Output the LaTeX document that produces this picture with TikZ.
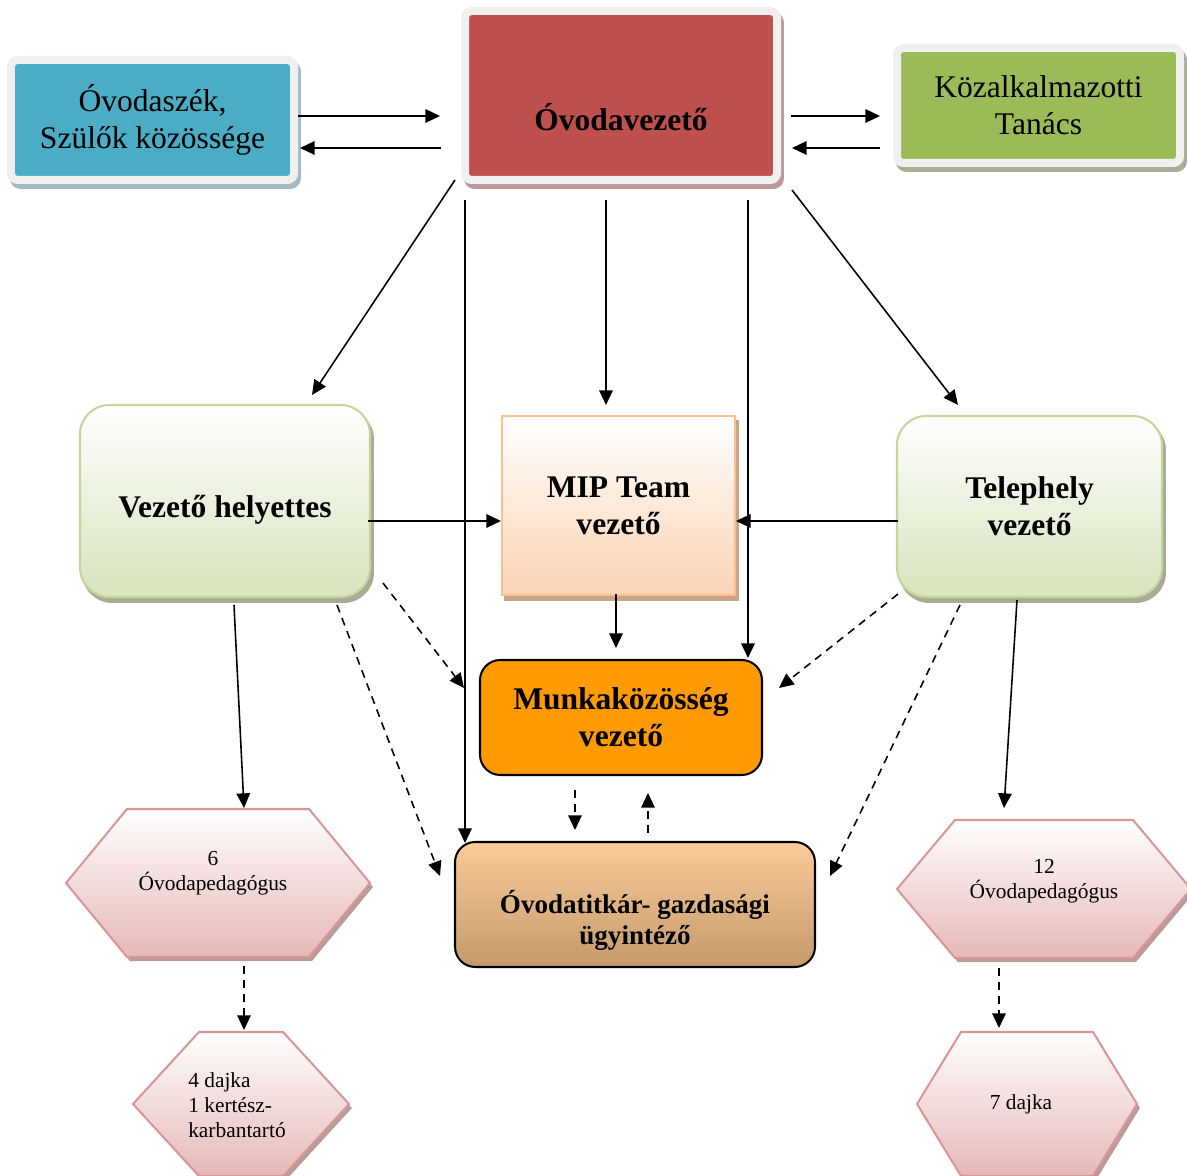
\documentclass[tikz,border=0pt]{standalone}
\usepackage{fontspec}
\setmainfont{Liberation Serif}
\usetikzlibrary{arrows.meta,calc}

\newcommand{\pxu}{0.444pt}
\definecolor{framegray}{HTML}{F0F0F0}
\definecolor{parentblue}{HTML}{4BACC6}
\definecolor{leadred}{HTML}{C0504D}
\definecolor{councilgreen}{HTML}{9BBB59}
\definecolor{blueshadow}{HTML}{A4B9C3}
\definecolor{redshadow}{HTML}{BC9A9C}
\definecolor{greenshadow}{HTML}{A9AE99}
\definecolor{softgreen}{HTML}{D7E4BD}
\definecolor{greenline}{HTML}{C3D69B}
\definecolor{roundshadow}{HTML}{A7AD95}
\definecolor{peach}{HTML}{FBD4B4}
\definecolor{peachline}{HTML}{FAC090}
\definecolor{peachshadow}{HTML}{C9A586}
\definecolor{workorange}{HTML}{FF9A00}
\definecolor{clerktop}{HTML}{FBCB98}
\definecolor{clerkbottom}{HTML}{C49A6C}
\definecolor{hexpink}{HTML}{E6B8B7}
\definecolor{hexline}{HTML}{D99694}
\definecolor{hexshadow}{HTML}{B89C9C}

\tikzset{
  boxsize/.style 2 args={minimum width=#1*\pxu, minimum height=#2*\pxu, inner sep=0pt, outer sep=0pt},
  castshadow/.style={preaction={draw=#1, fill=#1, transform canvas={xshift=1.3pt, yshift=-2.2pt}}},
  framedbox/.style={draw=framegray, line width=3.55pt, rounded corners=3pt},
  roundbox/.style={draw=greenline, line width=0.9pt, rounded corners=13pt, top color=white, bottom color=softgreen, castshadow=roundshadow},
  bigtext/.style={font=\fontsize{14}{16.4}\selectfont, align=center},
  boldtext/.style={font=\fontsize{14}{16.4}\selectfont\bfseries, align=center},
  hextext/.style={font=\fontsize{9.5}{11.2}\selectfont, align=center},
  dashlink/.style={dash pattern=on 3.5pt off 2.7pt}
}

% hexagon: centre x, centre y, half width, half height, cut
\newcommand{\hexpath}[5]{(#1-#3,#2) -- (#1-#3+#5,#2-#4) -- (#1+#3-#5,#2-#4) -- (#1+#3,#2) -- (#1+#3-#5,#2+#4) -- (#1-#3+#5,#2+#4) -- cycle}
\newcommand{\hexagonbox}[6]{%
  \fill[hexshadow, xshift=1.3pt, yshift=-1.8pt] \hexpath{#2}{#3}{#4}{#5}{#6};
  \path[draw=hexline, line width=0.9pt, top color=white, bottom color=hexpink] \hexpath{#2}{#3}{#4}{#5}{#6};
  \node[boxsize={2*#4}{2*#5}] (#1) at (#2,#3) {};
}

\begin{document}
\begin{tikzpicture}[x=\pxu, y=-\pxu, >={Triangle[length=6.5pt,width=6pt]}, line width=0.7pt]
  \useasboundingbox (0,0) rectangle (1187,1176);

  % top row
  \node[framedbox, fill=parentblue, castshadow=blueshadow, boxsize={283}{120}, bigtext] (parents) at (152.5,120) {Óvodaszék,\\Szülők közössége};
  \node[framedbox, fill=leadred, castshadow=redshadow, boxsize={312}{169}] (leader) at (621,95.5) {};
  \node[boldtext] (leadertext) at (621,117) {Óvodavezető};
  \node[framedbox, fill=councilgreen, castshadow=greenshadow, boxsize={283}{115}, bigtext] (council) at (1038.5,105.5) {Közalkalmazotti\\Tanács};

  % middle row
  \node[roundbox, boxsize={290}{192}, boldtext, text height=18pt, text depth=3pt] (deputy) at (225,501) {Vezető helyettes};
  \node[draw=peachline, line width=0.9pt, top color=white, bottom color=peach, castshadow=peachshadow, boxsize={233}{179}, boldtext] (mip) at (618.5,505.5) {MIP Team\\vezető};
  \node[roundbox, boxsize={265}{181}, boldtext] (site) at (1029.5,506.5) {Telephely\\vezető};

  \node[draw, line width=0.9pt, fill=workorange, rounded corners=9pt, boxsize={282}{115}, boldtext] (team) at (621,717.5) {Munkaközösség\\vezető};
  \node[draw, line width=0.9pt, top color=clerktop, bottom color=clerkbottom, rounded corners=9pt, boxsize={360}{125}] (clerk) at (635,904.5) {};
  \node[boldtext, font=\fontsize{12}{13.8}\selectfont\bfseries] (clerktext) at (635,920) {Óvodatitkár- gazdasági\\ügyintéző};

  % hexagons
  \hexagonbox{ped6}{218}{883}{152}{74}{61}
  \node[hextext] (ped6text) at (213,873) {6\\Óvodapedagógus};
  \hexagonbox{ped12}{1044}{889}{147}{69}{58}
  \node[hextext] (ped12text) at (1044,881) {12\\Óvodapedagógus};
  \hexagonbox{dajka4}{241}{1104}{108}{72}{66}
  \node[hextext, align=left] (dajka4text) at (237,1105) {4 dajka\\1 kertész-\\karbantartó};
  \hexagonbox{dajka7}{1027}{1104}{110}{72}{44}
  \node[hextext] (dajka7text) at (1021,1104) {7 dajka};

  % solid arrows
  \draw[->] ($(parents.east)+(4,-4)$) -- ($(leader.west)+(-25,20.5)$);
  \draw[->] ($(leader.west)+(-24,52.5)$) -- ($(parents.east)+(6,28)$);
  \draw[->] ($(leader.east)+(14,20.5)$) -- ($(council.west)+(-17,10.5)$);
  \draw[->] ($(council.west)+(-17,42.5)$) -- ($(leader.east)+(15,52.5)$);
  \draw[->] ($(leader.south west)+(-10,0)$) -- ($(deputy.north)+(87,-10)$);
  \draw[->] ($(leader.south west)+(0,20)$) -- ($(clerk.north west)+(10,1)$);
  \draw[->] ($(leader.south)+(-15,20)$) -- ($(mip.north)+(-12.5,-11)$);
  \draw[->] ($(leader.south east)+(-29,20)$) -- ($(team.north east)+(-14,-2)$);
  \draw[->] ($(leader.south east)+(15,10)$) -- ($(site.north)+(-71.5,-11)$);
  \draw[->] ($(deputy.east)+(-2,20)$) -- ($(mip.west)+(-1,15.5)$);
  \draw[->] ($(site.west)+(1,14.5)$) -- ($(mip.east)+(1,15.5)$);
  \draw[->] ($(mip.south)+(-2.5,-1)$) -- ($(team.north)+(-5,-12)$);
  \draw[->] ($(deputy.south)+(9,8)$) -- ($(ped6.north)+(26,-1)$);
  \draw[->] ($(site.south)+(-12.5,3)$) -- ($(ped12.north)+(-40,-12)$);

  % dashed arrows
  \draw[->, dashlink] ($(deputy.south east)+(13,-14)$) -- ($(team.west)+(-16,-29.5)$);
  \draw[->, dashlink] ($(deputy.south east)+(-33,8)$) -- ($(clerk.west)+(-15,-28.5)$);
  \draw[->, dashlink] ($(site.south west)+(1,-3)$) -- ($(team.east)+(17,-29.5)$);
  \draw[->, dashlink] ($(site.south west)+(63,8)$) -- ($(clerk.east)+(15,-28.5)$);
  \draw[->, dashlink] ($(team.south)+(-46,15)$) -- ($(clerk.north)+(-60,-12)$);
  \draw[->, dashlink] ($(clerk.north)+(13,-9)$) -- ($(team.south)+(27,18)$);
  \draw[->, dashlink] ($(ped6.south)+(26,9)$) -- ($(dajka4.north)+(3,-2)$);
  \draw[->, dashlink] ($(ped12.south)+(-45,10)$) -- ($(dajka7.north)+(-28,-4)$);
\end{tikzpicture}
\end{document}
